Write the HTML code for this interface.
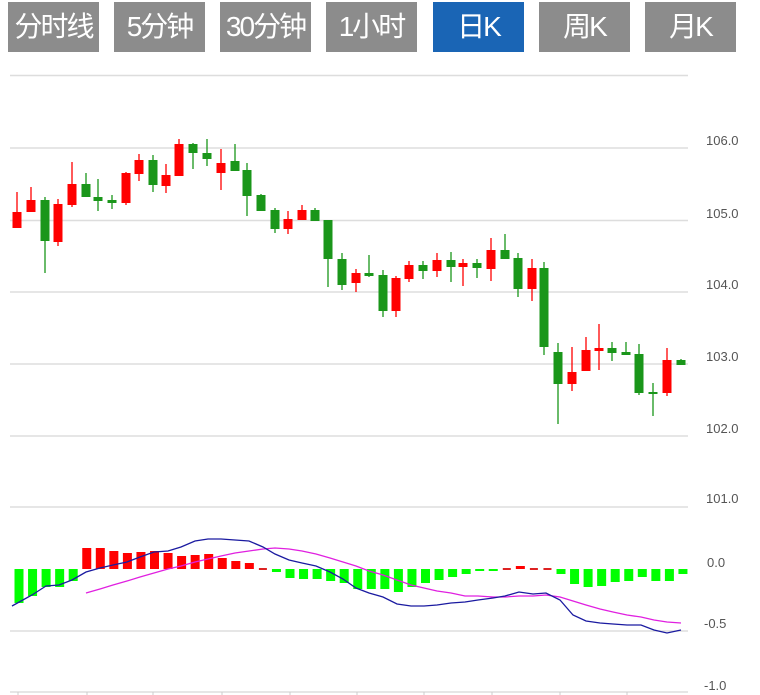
<!DOCTYPE html>
<html><head><meta charset="utf-8"><style>
body{margin:0;width:760px;height:695px;background:#fff;overflow:hidden;font-family:"Liberation Sans","Noto Sans CJK SC",sans-serif}
.b{position:absolute;top:2px;width:91px;height:50px;background:#8c8c8c;color:#fff;font-size:28px;line-height:50px;text-align:center;letter-spacing:-2px}
.b.a{background:#1a65b5}
svg{position:absolute;left:0;top:0}
</style></head><body>
<div class="b" style="left:8px">分时线</div>
<div class="b" style="left:114px">5分钟</div>
<div class="b" style="left:220px">30分钟</div>
<div class="b" style="left:326px">1小时</div>
<div class="b a" style="left:433px">日K</div>
<div class="b" style="left:539px">周K</div>
<div class="b" style="left:645px">月K</div>
<svg id="s" width="760" height="695" xmlns="http://www.w3.org/2000/svg" font-family="Liberation Sans, sans-serif" font-size="13" fill="#555">
<g stroke="#ddd" stroke-width="1.5">
<line x1="10" x2="688" y1="75.5" y2="75.5"/>
<line x1="10" x2="688" y1="148" y2="148"/>
<line x1="10" x2="688" y1="220.5" y2="220.5"/>
<line x1="10" x2="688" y1="292" y2="292"/>
<line x1="10" x2="688" y1="364" y2="364"/>
<line x1="10" x2="688" y1="436" y2="436"/>
<line x1="10" x2="688" y1="507" y2="507"/>
<line x1="10" x2="688" y1="631" y2="631"/>
<line x1="10" x2="688" y1="692" y2="692"/>
</g>
<g stroke="#ccc" stroke-width="1">
<line x1="18" x2="18" y1="692" y2="695"/><line x1="87" x2="87" y1="692" y2="695"/><line x1="153" x2="153" y1="692" y2="695"/><line x1="222" x2="222" y1="692" y2="695"/><line x1="290" x2="290" y1="692" y2="695"/><line x1="357" x2="357" y1="692" y2="695"/><line x1="424" x2="424" y1="692" y2="695"/><line x1="492" x2="492" y1="692" y2="695"/><line x1="560" x2="560" y1="692" y2="695"/><line x1="627" x2="627" y1="692" y2="695"/>
</g>
<text x="706" y="145">106.0</text>
<text x="706" y="218">105.0</text>
<text x="706" y="289">104.0</text>
<text x="706" y="361">103.0</text>
<text x="706" y="433">102.0</text>
<text x="706" y="503">101.0</text>
<text x="707" y="567">0.0</text>
<text x="704" y="628">-0.5</text>
<text x="704" y="690">-1.0</text>
<g id="c"></g>
<g id="m"></g>
</svg>
<script>
var R='#f00',G='#1a961a';
var C=[[17,212,228,192,228,R],[31,200,212,187,212,R],[45,200,241,197,273,G],[58,204,242,199,246,R],[72,184,205,162,207,R],[86,184,197,173,197,G],[98,197,201,179,211,G],[112,200,203,195,209,G],[126,173,203,172,205,R],[139,160,174,154,181,R],[153,160,185,155,192,G],[166,175,186,164,193,R],[179,144,176,139,176,R],[193,144,153,143,169,G],[207,153,159,139,166,G],[221,163,173,149,190,R],[235,161,171,144,171,G],[247,170,196,163,216,G],[261,195,211,194,211,G],[275,210,229,208,233,G],[288,219,229,211,234,R],[302,210,220,205,220,R],[315,210,221,208,221,G],[328,220,259,220,287,G],[342,259,285,253,290,G],[356,273,283,269,292,R],[369,273,276,255,277,G],[383,275,311,270,317,G],[396,278,311,276,317,R],[409,265,279,261,282,R],[423,265,271,261,279,G],[437,260,271,253,277,R],[451,260,267,252,282,G],[463,263,267,259,286,R],[477,263,268,259,278,G],[491,250,269,238,281,R],[505,250,259,234,259,G],[518,258,289,253,297,G],[532,268,289,259,301,R],[544,268,347,262,355,G],[558,352,384,343,424,G],[572,372,384,347,391,R],[586,350,371,337,371,R],[599,348,351,324,370,R],[612,348,353,342,361,G],[626,352,355,342,355,G],[639,354,393,344,395,G],[653,392,393,383,416,G],[667,360,393,348,396,R],[681,360,365,359,365,G]];
var h='';
C.forEach(function(c){h+='<line x1="'+c[0]+'" x2="'+c[0]+'" y1="'+c[3]+'" y2="'+c[4]+'" stroke="'+c[5]+'" stroke-width="1.3"/>';
h+='<rect x="'+(c[0]-4.5)+'" y="'+c[1]+'" width="9" height="'+Math.max(2,c[2]-c[1])+'" fill="'+c[5]+'"/>';});
document.getElementById('c').innerHTML=h;
var B=[603,596,587,587,581,548,548,551,553,552,551,553,556,555,554,558,561,563,0,572,578,579,579,581,583,589,589,589,592,587,583,580,577,574,571,571,0,566,0,0,574,584,587,586,582,581,577,581,581,574];
var m='';
B.forEach(function(v,i){var x=19+13.55*i;
if(v===0){m+='<rect x="'+(x-4)+'" y="568" width="8" height="2" fill="#d22"/>';}
else if(v<569){m+='<rect x="'+(x-4.5)+'" y="'+v+'" width="9" height="'+(569-v)+'" fill="#f00"/>';}
else{m+='<rect x="'+(x-4.5)+'" y="569" width="9" height="'+(v-569)+'" fill="#0f0"/>';}});
var D=[[12,606],[32,595],[46,586],[59,585],[72,580],[86,572],[100,568],[113,565],[127,562],[140,557],[154,552],[168,551],[181,547],[195,541],[208,539],[221,539],[235,540],[249,541],[263,547],[275,554],[289,560],[302,563],[316,566],[330,572],[343,579],[356,588],[369,593],[383,597],[397,604],[411,606],[424,606],[437,605],[451,603],[465,602],[478,600],[493,598],[505,596],[519,592],[533,594],[546,593],[560,600],[573,615],[586,621],[600,623],[613,624],[627,625],[641,625],[654,630],[667,633],[681,630]];
var E=[[86,593],[100,589],[113,585],[127,581],[140,577],[154,573],[168,569],[181,566],[195,562],[208,559],[221,556],[235,553],[249,551],[263,549],[275,548],[289,549],[302,551],[316,554],[330,558],[343,562],[356,566],[369,571],[383,575],[397,580],[411,585],[424,588],[437,591],[451,593],[465,596],[478,596],[493,597],[505,597],[519,596],[533,596],[546,595],[560,597],[573,601],[586,605],[600,609],[613,612],[627,615],[641,617],[654,620],[667,622],[681,623]];
function pl(a,c){return '<polyline fill="none" stroke="'+c+'" stroke-width="1.3" points="'+a.map(function(p){return p.join(',')}).join(' ')+'"/>';}
m+=pl(E,'#e020e0')+pl(D,'#1a1aa0');
document.getElementById('m').innerHTML=m;
</script>
</body></html>
